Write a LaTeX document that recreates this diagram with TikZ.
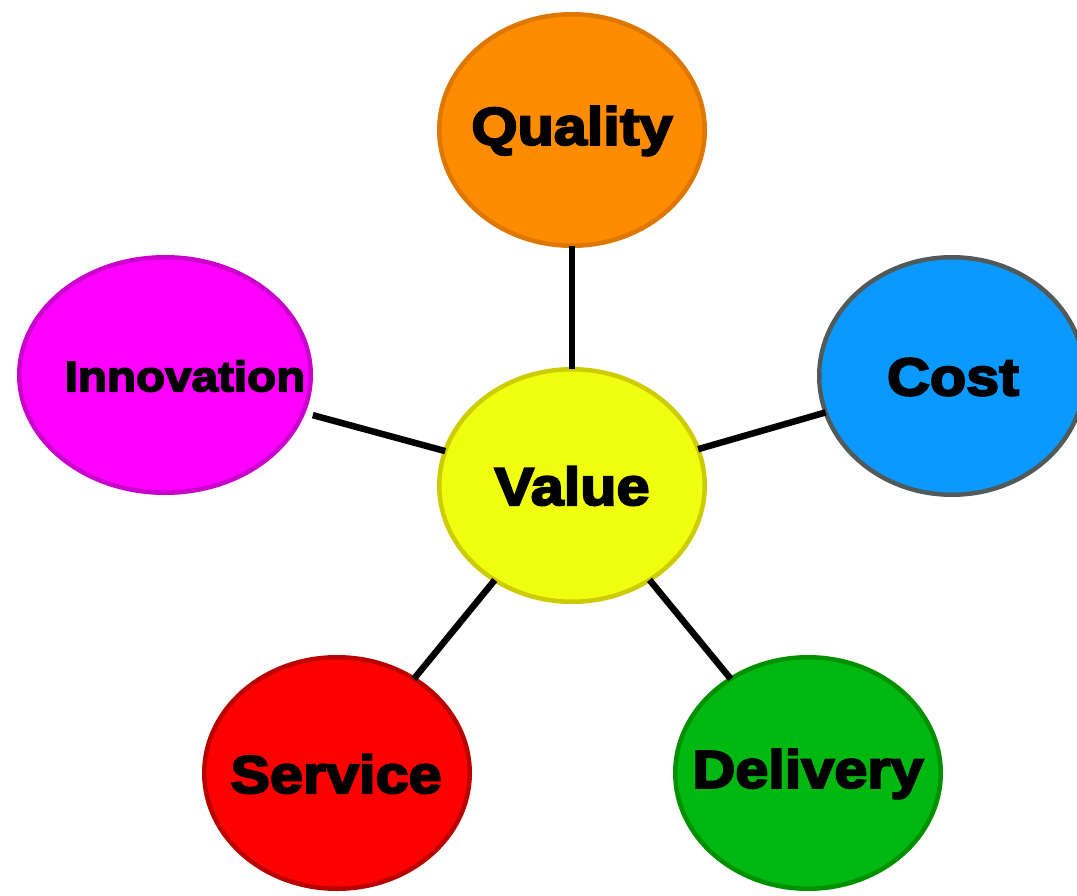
\documentclass[tikz,border=0pt]{standalone}
\usepackage{fontspec}
\setmainfont{Liberation Sans}
\newfontfamily\lbl{Liberation Sans}[BoldFeatures={FakeBold=4,FakeStretch=1.12}]
\usetikzlibrary{shapes.geometric}
\definecolor{qfill}{HTML}{FF8C00}\definecolor{qdraw}{HTML}{DD7700}
\definecolor{ifill}{HTML}{FF00FF}\definecolor{idraw}{HTML}{CC00CC}
\definecolor{cfill}{HTML}{0A9AFF}\definecolor{cdraw}{HTML}{505A5A}
\definecolor{vfill}{HTML}{F0FF10}\definecolor{vdraw}{HTML}{CCCC00}
\definecolor{sfill}{HTML}{FF0000}\definecolor{sdraw}{HTML}{BB0000}
\definecolor{dfill}{HTML}{00B80F}\definecolor{ddraw}{HTML}{009000}
\tikzset{
  bubble/.style={ellipse, line width=4.5pt, inner sep=0pt, outer sep=0pt},
  lbltext/.style={font=\lbl\bfseries\fontsize{53}{60}\selectfont, text=black, inner sep=0pt},
  link/.style={line width=6.5pt, black}
}
\begin{document}
\begin{tikzpicture}[x=1pt,y=-1pt]
\useasboundingbox (0,0) rectangle (1077,895);
\coordinate (qc) at (572,130);
\coordinate (ic) at (165,375);
\coordinate (cc) at (952,376);
\coordinate (vc) at (572,485.5);
\coordinate (sc) at (337,773);
\coordinate (dc) at (808,773);
\node[bubble, fill=qfill, draw=qdraw, minimum width=265.5pt, minimum height=231.5pt] (quality) at (qc) {};
\node[bubble, fill=ifill, draw=idraw, minimum width=291.5pt, minimum height=235.5pt] (innovation) at (ic) {};
\node[bubble, fill=cfill, draw=cdraw, minimum width=265.5pt, minimum height=237.5pt] (cost) at (cc) {};
\node[bubble, fill=vfill, draw=vdraw, minimum width=265.5pt, minimum height=232.5pt] (value) at (vc) {};
\node[bubble, fill=sfill, draw=sdraw, minimum width=265.5pt, minimum height=231.5pt] (service) at (sc) {};
\node[bubble, fill=dfill, draw=ddraw, minimum width=265.5pt, minimum height=231.5pt] (delivery) at (dc) {};
\draw[link] (quality) -- (value);
\draw[link, shorten <=10pt] (innovation) -- (value);
\draw[link] (cost) -- (value);
\draw[link] (service) -- (value);
\draw[link] (delivery) -- (value);
\node[lbltext] (tq) at (572,131) {Quality};
\node[lbltext, font=\lbl\bfseries\fontsize{42.5}{50}\selectfont] (ti) at (185,376) {Innovation};
\node[lbltext] (tc) at (953,377) {Cost};
\node[lbltext] (tv) at (572,486) {Value};
\node[lbltext] (ts) at (336,774) {Service};
\node[lbltext] (td) at (808,774) {Delivery};
\end{tikzpicture}
\end{document}
